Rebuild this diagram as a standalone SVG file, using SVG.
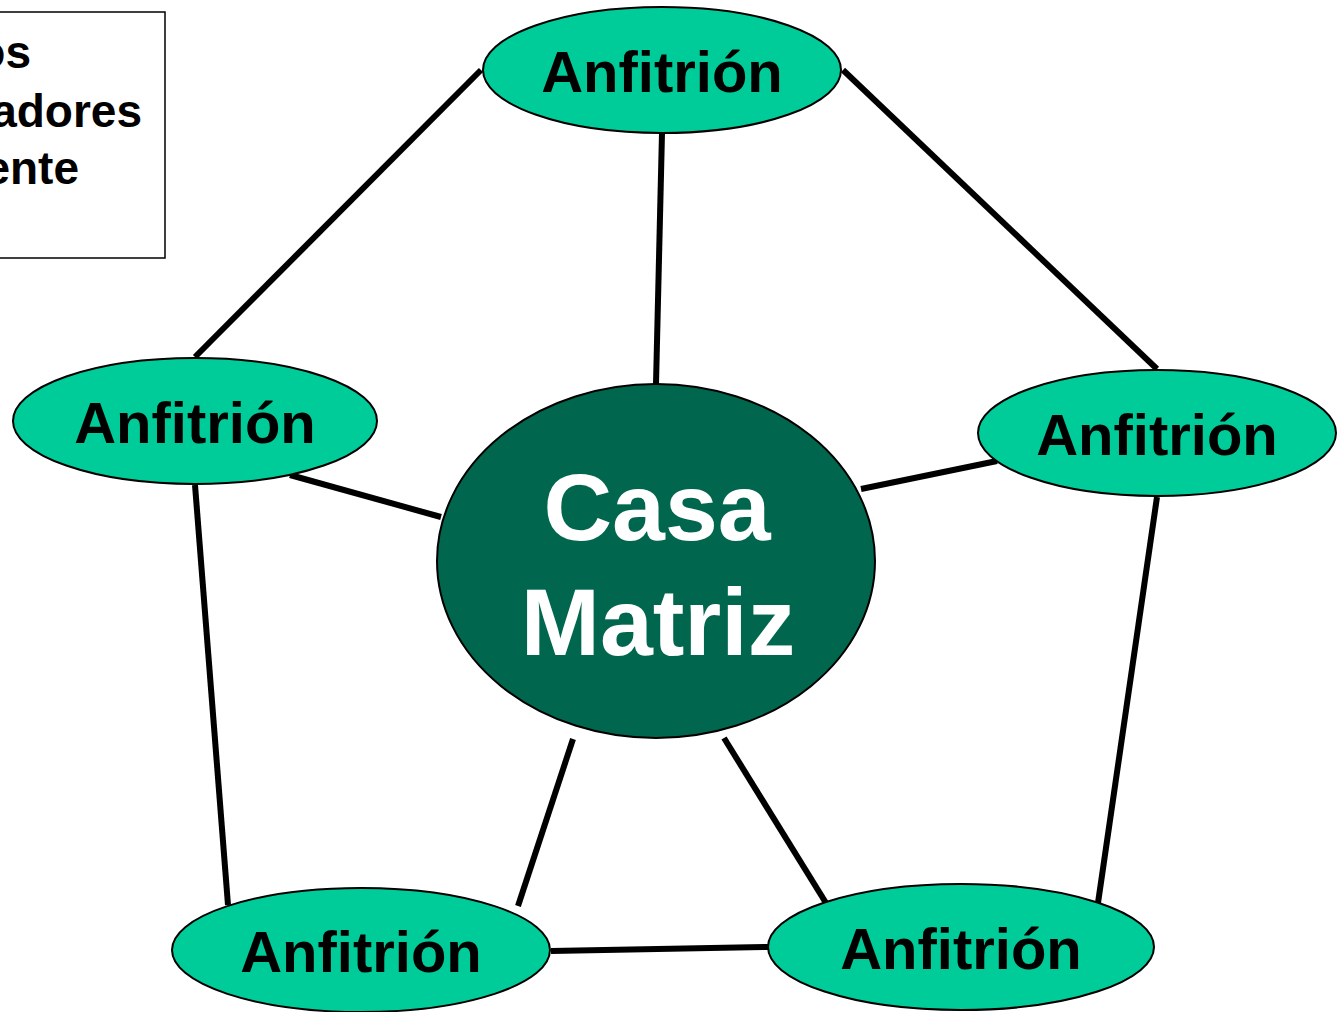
<svg xmlns="http://www.w3.org/2000/svg" width="1344" height="1012" viewBox="0 0 1344 1012">
<style>
.host{fill:#00CC99;stroke:#000;stroke-width:2}
.ht{font-family:"Liberation Sans",Arial,sans-serif;font-weight:bold;font-size:58px;fill:#000;text-anchor:middle}
.ct{font-family:"Liberation Sans",Arial,sans-serif;font-weight:bold;font-size:95px;fill:#fff;text-anchor:middle}
.bt{font-family:"Liberation Sans",Arial,sans-serif;font-weight:bold;font-size:46px;fill:#000;text-anchor:end}
.ln{stroke:#000;stroke-width:6;fill:none}
</style>
<rect width="1344" height="1012" fill="#fff"/>
<g id="note">
<rect x="-10" y="12" width="175" height="246" fill="#fff" stroke="#000" stroke-width="1.5"/>
<text class="bt" x="31" y="68">os</text>
<text class="bt" x="142" y="127">adores</text>
<text class="bt" x="79" y="184">ente</text>
</g>
<g id="connectors">
<line class="ln" x1="481" y1="70" x2="195" y2="357"/>
<line class="ln" x1="662" y1="133" x2="656" y2="384"/>
<line class="ln" x1="843" y1="70" x2="1157" y2="369"/>
<line class="ln" x1="290" y1="475" x2="441" y2="517"/>
<line class="ln" x1="997" y1="461" x2="861" y2="489"/>
<line class="ln" x1="195" y1="485" x2="228" y2="905"/>
<line class="ln" x1="1157" y1="497" x2="1098" y2="903"/>
<line class="ln" x1="573" y1="739" x2="518" y2="906"/>
<line class="ln" x1="724" y1="738" x2="826" y2="903"/>
<line class="ln" x1="551" y1="951" x2="768" y2="947"/>
</g>
<g id="center">
<ellipse cx="656" cy="561" rx="219" ry="177" fill="#00664D" stroke="#000" stroke-width="2"/>
<text class="ct" x="657" y="540">Casa</text>
<text class="ct" x="658" y="655">Matriz</text>
</g>
<g id="host-top">
<ellipse class="host" cx="662" cy="70" rx="179" ry="63"/>
<text class="ht" x="662" y="92">Anfitrión</text>
</g>
<g id="host-left">
<ellipse class="host" cx="195" cy="421" rx="182" ry="63"/>
<text class="ht" x="195" y="443">Anfitrión</text>
</g>
<g id="host-right">
<ellipse class="host" cx="1157" cy="433" rx="179" ry="63"/>
<text class="ht" x="1157" y="455">Anfitrión</text>
</g>
<g id="host-bottom-left">
<ellipse class="host" cx="361" cy="950" rx="189" ry="62"/>
<text class="ht" x="361" y="972">Anfitrión</text>
</g>
<g id="host-bottom-right">
<ellipse class="host" cx="961" cy="947" rx="193" ry="63"/>
<text class="ht" x="961" y="969">Anfitrión</text>
</g>
</svg>
